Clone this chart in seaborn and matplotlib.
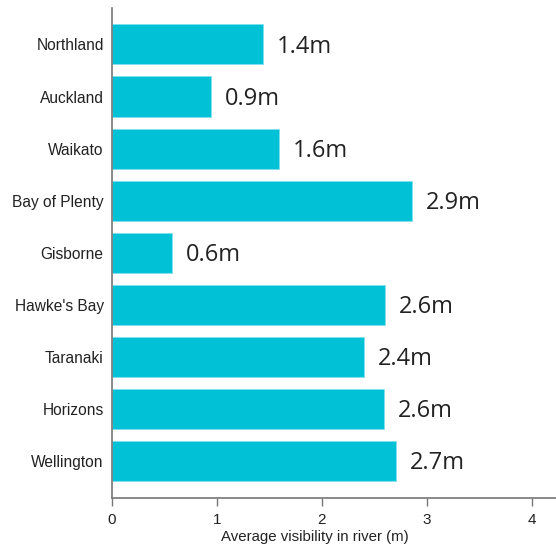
import matplotlib
matplotlib.use("Agg")
import matplotlib.pyplot as plt
import seaborn as sns
import pandas as pd

regions = ["Northland", "Auckland", "Waikato", "Bay of Plenty", "Gisborne",
           "Hawke's Bay", "Taranaki", "Horizons", "Wellington"]
visibility = [1.44, 0.94, 1.59, 2.86, 0.57, 2.60, 2.40, 2.59, 2.71]
x_ticks = [0, 1, 2, 3, 4]
x_title = "Average visibility in river (m)"

df = pd.DataFrame({"region": regions, "visibility": visibility})

sns.set_theme(style="white")
plt.rcParams["font.family"] = ["Liberation Sans", "DejaVu Sans"]

fig = plt.figure(figsize=(5.56, 5.49), dpi=100)
ax = fig.add_axes([112 / 556, 51 / 549, 444 / 556, 490 / 549])

sns.barplot(data=df, x="visibility", y="region", orient="h", color="#00C1D6",
            saturation=1, width=0.77, edgecolor="#7fe0ea", linewidth=0.6, ax=ax)

for i, v in enumerate(visibility):
    ax.annotate(f"{v:.1f}m", xy=(v, i), xytext=(10, -1.5), textcoords="offset points",
                va="center", ha="left", fontsize=17, color="#222222",
                family=["Open Sans", "DejaVu Sans"])

ax.set_xlim(0, 4.23)
ax.set_ylim(8.71, -0.70)
ax.set_xticks(x_ticks)
ax.set_xticklabels([str(t) for t in x_ticks])
ax.set_ylabel("")
ax.set_xlabel(x_title, fontsize=10.8, color="#222222")
ax.xaxis.set_label_coords(0.457, -0.066)

for side in ["top", "right"]:
    ax.spines[side].set_visible(False)
for side in ["left", "bottom"]:
    ax.spines[side].set_color("#777777")
    ax.spines[side].set_linewidth(1.2)

ax.tick_params(axis="x", length=6, width=1, color="#777777", labelsize=11,
               labelcolor="#222222", pad=5, direction="out", bottom=True)
ax.tick_params(axis="y", length=0, labelsize=11.2, labelcolor="#222222", pad=6)

fig.savefig("out.png", dpi=100)
